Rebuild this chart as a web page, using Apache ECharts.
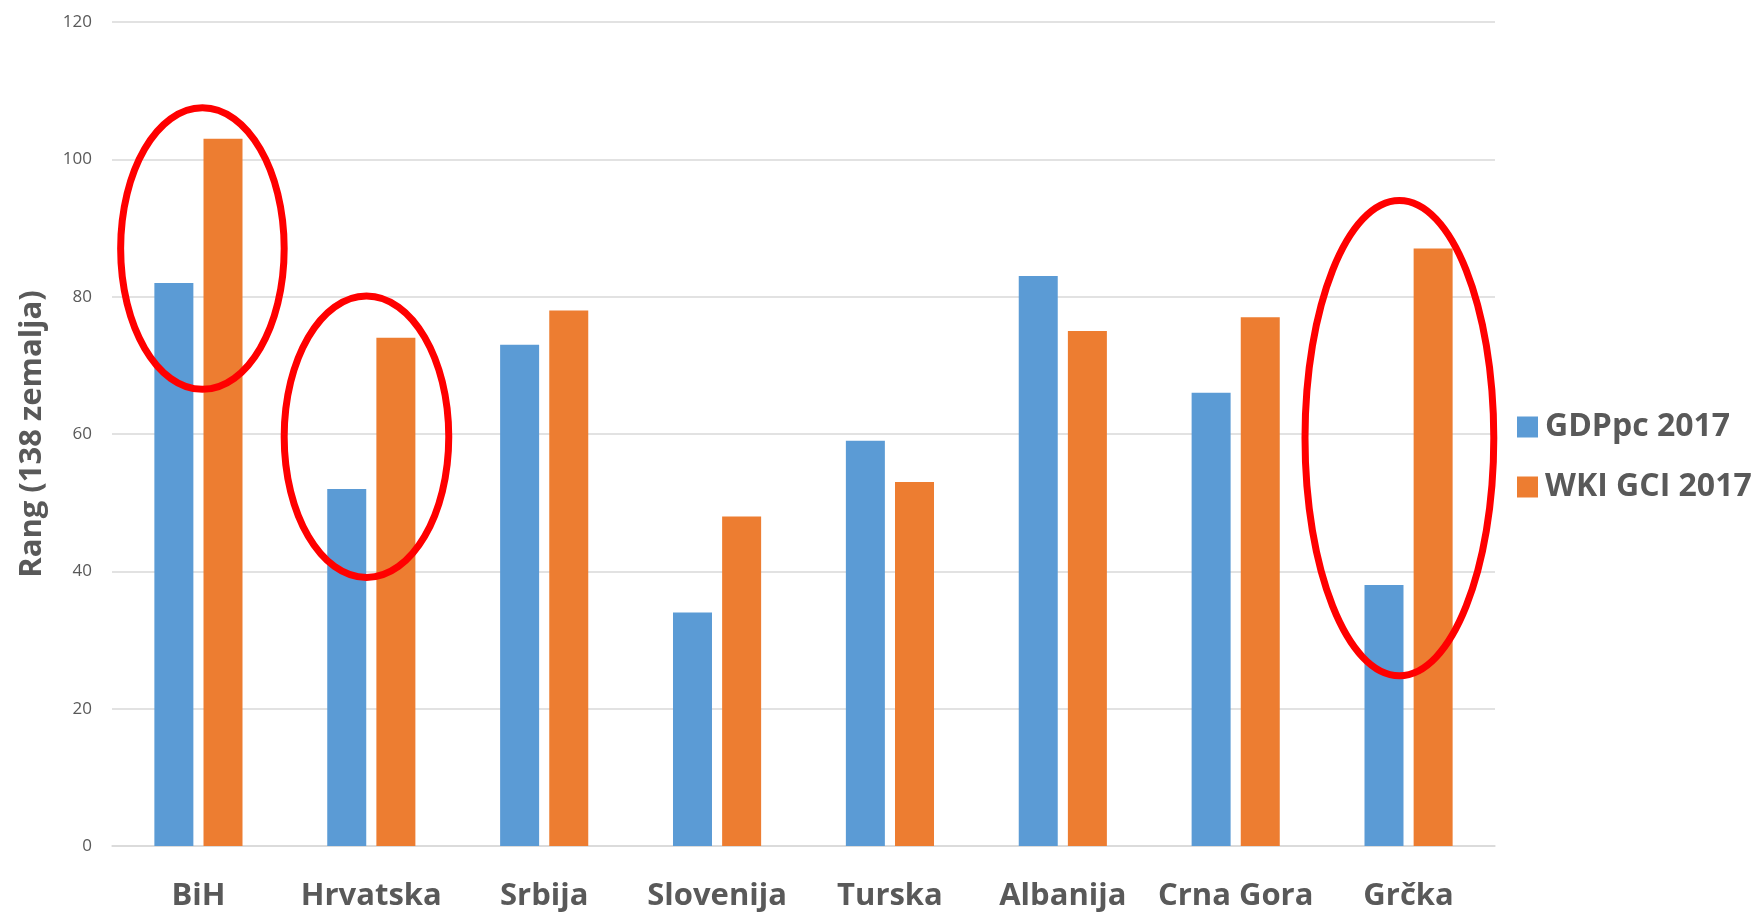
<!DOCTYPE html>
<html>
<head>
<meta charset="utf-8">
<script src="https://cdn.jsdelivr.net/npm/echarts@6/dist/echarts.min.js"></script>
<style>
html,body{margin:0;padding:0;background:#fff;}
#chart{width:1758px;height:913px;}
</style>
</head>
<body>
<div id="chart"></div>
<script>
var categories = ['BiH', 'Hrvatska', 'Srbija', 'Slovenija', 'Turska', 'Albanija', 'Crna Gora', 'Grčka'];
var gdpValues = [82, 52, 73, 34, 59, 83, 66, 38];
var gciValues = [103, 74, 78, 48, 53, 75, 77, 87];
var seriesNames = ['GDPpc 2017', 'WKI GCI 2017'];
var yAxisName = 'Rang (138 zemalja)';
// highlight ellipses: category index, centre value, vertical half-size in value units
var highlightCats = [0, 1, 7];
var highlightCenterValues = [87, 59.6, 59.4];
var highlightHalfRanges = [20.5, 20.5, 34.6];

var chart = echarts.init(document.getElementById('chart'));
var textColor = '#595959';
var font = '"Open Sans", "Liberation Sans", sans-serif';

chart.setOption({
  animation: false,
  backgroundColor: '#ffffff',
  grid: { left: 112, right: 263, top: 22, bottom: 67 },
  legend: {
    orient: 'vertical',
    left: 1512,
    top: 406,
    itemWidth: 21,
    itemHeight: 21,
    itemGap: 28,
    icon: 'rect',
    textStyle: { color: textColor, fontFamily: font, fontWeight: 'bold', fontSize: 32, lineHeight: 32, padding: [0, 0, 0, 2] },
    data: seriesNames
  },
  xAxis: {
    type: 'category',
    data: categories,
    axisLine: { show: true, lineStyle: { color: '#D9D9D9', width: 1.5 } },
    axisTick: { show: false },
    axisLabel: { interval: 0, color: textColor, fontFamily: font, fontWeight: 'bold', fontSize: 31, margin: 35 }
  },
  yAxis: {
    type: 'value',
    min: 0,
    max: 120,
    interval: 20,
    name: yAxisName,
    nameLocation: 'middle',
    nameGap: 64,
    nameTextStyle: { color: textColor, fontFamily: font, fontWeight: 'bold', fontSize: 31 },
    axisLine: { show: false },
    axisTick: { show: false },
    axisLabel: { color: textColor, fontFamily: font, fontSize: 17, margin: 20 },
    splitLine: { lineStyle: { color: '#D9D9D9', width: 1.5 } }
  },
  series: [
    { name: seriesNames[0], type: 'bar', data: gdpValues, barWidth: 39, barGap: '26%', itemStyle: { color: '#5B9BD5' } },
    { name: seriesNames[1], type: 'bar', data: gciValues, barWidth: 39, itemStyle: { color: '#ED7D31' } }
  ]
});

function drawHighlights() {
  var p0 = chart.convertToPixel({ xAxisIndex: 0, yAxisIndex: 0 }, [0, 0]);
  var p1 = chart.convertToPixel({ xAxisIndex: 0, yAxisIndex: 0 }, [1, 0]);
  var catW = p1[0] - p0[0];
  // horizontal offset and half-width as a fraction of one category width
  var xShift = [0.023, -0.028, -0.053];
  var xHalf = [0.473, 0.476, 0.546];
  var els = [];
  for (var i = 0; i < highlightCats.length; i++) {
    var c = chart.convertToPixel({ xAxisIndex: 0, yAxisIndex: 0 }, [highlightCats[i], highlightCenterValues[i]]);
    var t = chart.convertToPixel({ xAxisIndex: 0, yAxisIndex: 0 }, [highlightCats[i], highlightCenterValues[i] + highlightHalfRanges[i]]);
    els.push({
      type: 'ellipse',
      z: 100,
      shape: { cx: c[0] + xShift[i] * catW, cy: c[1], rx: xHalf[i] * catW, ry: c[1] - t[1] },
      style: { fill: 'none', stroke: '#FF0000', lineWidth: 7 }
    });
  }
  chart.setOption({ graphic: { elements: els } });
}
drawHighlights();
</script>
</body>
</html>
